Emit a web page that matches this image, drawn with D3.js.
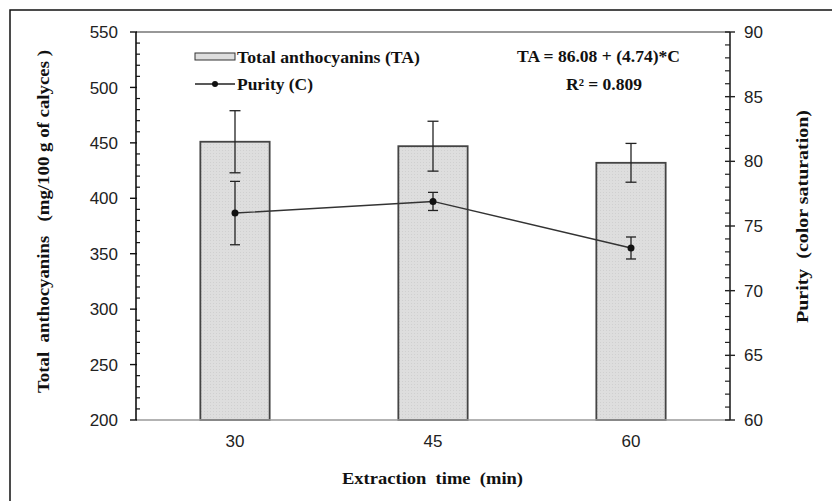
<!DOCTYPE html>
<html><head><meta charset="utf-8">
<script src="https://cdn.jsdelivr.net/npm/d3@7"></script>
<style>body{margin:0;background:#fff}svg{display:block}text{white-space:pre}</style>
</head><body>
<script>
const categories = ["30", "45", "60"];
const taValues = [451, 447, 432];
const taErrors = [28, 22.5, 17.5];
const purityValues = [76.0, 76.9, 73.3];
const purityErrors = [2.45, 0.7, 0.85];
const leftTicks = [200, 250, 300, 350, 400, 450, 500, 550];
const rightTicks = [60, 65, 70, 75, 80, 85, 90];
const legendLabels = ["Total anthocyanins (TA)", "Purity (C)"];
const equationLines = ["TA = 86.08 + (4.74)*C", "R\u00B2 = 0.809"];

const W = 832, H = 501;
const m = {l: 136, r: 730, t: 32, b: 420};
const svg = d3.select("body").append("svg").attr("width", W).attr("height", H);

const defs = svg.append("defs");
const pat = defs.append("pattern").attr("id", "dots").attr("patternUnits", "userSpaceOnUse").attr("width", 3).attr("height", 3);
pat.append("rect").attr("width", 3).attr("height", 3).attr("fill", "#dedede");
pat.append("rect").attr("width", 1).attr("height", 1).attr("fill", "#d0d0d0");

// outer frame
svg.append("rect").attr("x", 10).attr("y", 10).attr("width", 840).attr("height", 520)
  .attr("fill", "none").attr("stroke", "#111").attr("stroke-width", 1.5);

const x = d3.scaleBand().domain(categories).range([m.l, m.r]).paddingInner(0.65).paddingOuter(0.325);
const yL = d3.scaleLinear().domain([200, 550]).range([m.b, m.t]);
const yR = d3.scaleLinear().domain([60, 90]).range([m.b, m.t]);

const g = svg.append("g");

// top border
g.append("line").attr("x1", m.l).attr("x2", m.r).attr("y1", m.t).attr("y2", m.t).attr("stroke", "#333").attr("stroke-width", 1.2);

// bars
g.selectAll("rect.bar").data(categories).enter().append("rect")
  .attr("x", d => x(d)).attr("width", x.bandwidth())
  .attr("y", (d, i) => yL(taValues[i])).attr("height", (d, i) => yL(200) - yL(taValues[i]))
  .attr("fill", "url(#dots)").attr("stroke", "#444").attr("stroke-width", 1.8);

// bottom axis line (gray)
g.append("line").attr("x1", m.l).attr("x2", m.r).attr("y1", m.b).attr("y2", m.b).attr("stroke", "#9a9a9a").attr("stroke-width", 1.5);

// TA error bars
categories.forEach((c, i) => {
  const cx = x(c) + x.bandwidth() / 2;
  const hi = yL(taValues[i] + taErrors[i]), lo = yL(taValues[i] - taErrors[i]);
  g.append("line").attr("x1", cx).attr("x2", cx).attr("y1", hi).attr("y2", lo).attr("stroke", "#222").attr("stroke-width", 1.3);
  [hi, lo].forEach(y => g.append("line").attr("x1", cx - 5.5).attr("x2", cx + 5.5).attr("y1", y).attr("y2", y).attr("stroke", "#222").attr("stroke-width", 1.3));
});

// purity line
const line = d3.line().x((d, i) => x(categories[i]) + x.bandwidth() / 2).y(d => yR(d));
g.append("path").datum(purityValues).attr("d", line).attr("fill", "none").attr("stroke", "#333").attr("stroke-width", 1.4);
categories.forEach((c, i) => {
  const cx = x(c) + x.bandwidth() / 2;
  const hi = yR(purityValues[i] + purityErrors[i]), lo = yR(purityValues[i] - purityErrors[i]);
  g.append("line").attr("x1", cx).attr("x2", cx).attr("y1", hi).attr("y2", lo).attr("stroke", "#222").attr("stroke-width", 1.3);
  [hi, lo].forEach(y => g.append("line").attr("x1", cx - 5).attr("x2", cx + 5).attr("y1", y).attr("y2", y).attr("stroke", "#222").attr("stroke-width", 1.3));
  g.append("circle").attr("cx", cx).attr("cy", yR(purityValues[i])).attr("r", 3.5).attr("fill", "#111");
});

const sans = "Liberation Sans, Arial, sans-serif";
// left axis
const minorL = d3.range(200, 551, 10).filter(v => !leftTicks.includes(v));
const aL = g.append("g");
aL.append("line").attr("x1", m.l).attr("x2", m.l).attr("y1", m.t).attr("y2", m.b).attr("stroke", "#111").attr("stroke-width", 1.6);
leftTicks.forEach(v => {
  aL.append("line").attr("x1", m.l - 6).attr("x2", m.l + 1).attr("y1", yL(v)).attr("y2", yL(v)).attr("stroke", "#111").attr("stroke-width", 1.4);
  aL.append("text").attr("x", 118).attr("y", yL(v)).attr("dy", "0.36em").attr("text-anchor", "end")
    .attr("font-family", sans).attr("font-size", 17).attr("fill", "#222").text(v);
});
minorL.forEach(v => aL.append("line").attr("x1", m.l).attr("x2", m.l + 4).attr("y1", yL(v)).attr("y2", yL(v)).attr("stroke", "#111").attr("stroke-width", 1.2));

// right axis
const minorR = d3.range(60, 90.1, 1).filter(v => !rightTicks.includes(v));
const aR = g.append("g");
aR.append("line").attr("x1", m.r).attr("x2", m.r).attr("y1", m.t).attr("y2", m.b).attr("stroke", "#222").attr("stroke-width", 1.6);
rightTicks.forEach(v => {
  aR.append("line").attr("x1", m.r - 5).attr("x2", m.r + 5).attr("y1", yR(v)).attr("y2", yR(v)).attr("stroke", "#222").attr("stroke-width", 1.4);
  aR.append("text").attr("x", 744).attr("y", yR(v)).attr("dy", "0.36em").attr("text-anchor", "start")
    .attr("font-family", sans).attr("font-size", 17).attr("fill", "#222").text(v);
});
minorR.forEach(v => aR.append("line").attr("x1", m.r - 5).attr("x2", m.r).attr("y1", yR(v)).attr("y2", yR(v)).attr("stroke", "#222").attr("stroke-width", 1.2));

// x tick labels
categories.forEach(c => {
  g.append("text").attr("x", x(c) + x.bandwidth() / 2).attr("y", 447).attr("text-anchor", "middle")
    .attr("font-family", sans).attr("font-size", 17).attr("fill", "#222").text(c);
});

const serif = "Liberation Serif, Times New Roman, serif";
function stext(sel, txt, len, size) {
  return sel.attr("font-family", serif).attr("font-weight", "bold").attr("font-size", size).attr("fill", "#111")
    .attr("textLength", len).attr("lengthAdjust", "spacingAndGlyphs").text(txt);
}
// axis titles
stext(svg.append("text").attr("x", 342).attr("y", 484), "Extraction  time  (min)", 181, 17);
stext(svg.append("text").attr("transform", "translate(49,393) rotate(-90)"), "Total  anthocyanins   (mg/100 g of calyces )", 343, 17);
stext(svg.append("text").attr("transform", "translate(808,323) rotate(-90)"), "Purity  (color saturation)", 213, 17);

// legend
svg.append("rect").attr("x", 195).attr("y", 53).attr("width", 40).attr("height", 7).attr("fill", "#dedede").attr("stroke", "#333").attr("stroke-width", 1);
stext(svg.append("text").attr("x", 237).attr("y", 63), legendLabels[0], 183, 16);
svg.append("line").attr("x1", 195).attr("x2", 235).attr("y1", 84).attr("y2", 84).attr("stroke", "#222").attr("stroke-width", 1.3);
svg.append("circle").attr("cx", 215).attr("cy", 84).attr("r", 3).attr("fill", "#111");
stext(svg.append("text").attr("x", 237).attr("y", 90), legendLabels[1], 76, 16);

// equation
stext(svg.append("text").attr("x", 517).attr("y", 62), equationLines[0], 163, 16);
stext(svg.append("text").attr("x", 566).attr("y", 90), equationLines[1], 76, 16);
</script>
</body></html>
